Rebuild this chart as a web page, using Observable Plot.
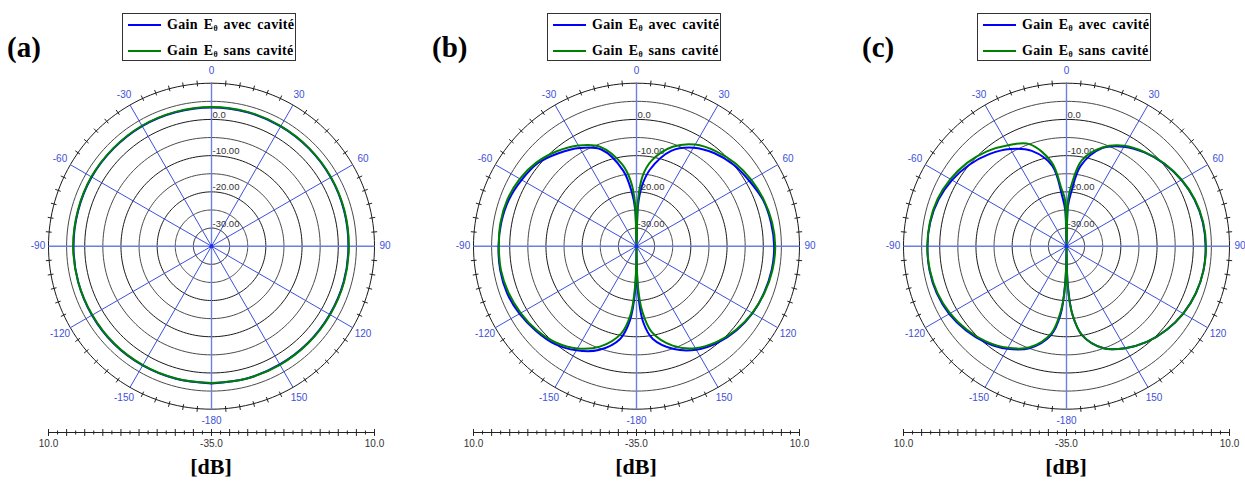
<!DOCTYPE html>
<html><head><meta charset="utf-8">
<script src="https://cdn.jsdelivr.net/npm/d3@7"></script>
<script src="https://cdn.jsdelivr.net/npm/@observablehq/plot@0.6"></script>
<style>
body{margin:0;background:#fff;overflow:hidden;}
#fig{position:relative;width:1245px;height:483px;overflow:hidden;background:#fff;}
.plabel{position:absolute;font-family:"Liberation Serif","Times New Roman",serif;font-weight:bold;font-size:29px;line-height:1;color:#000;}
.legend{position:absolute;border:1px solid #333;width:172px;height:46px;background:#fff;}
.legend .sw{position:absolute;left:5px;width:33px;height:2px;}
.legend .lt{position:absolute;left:44px;font-family:"Liberation Serif","Times New Roman",serif;font-weight:bold;font-size:14px;letter-spacing:0.35px;line-height:1;white-space:nowrap;word-spacing:2px;color:#000;}
.legend .lt sub{font-size:8px;vertical-align:-2px;line-height:0;letter-spacing:0;}
.unit{position:absolute;font-family:"Liberation Serif","Times New Roman",serif;font-weight:bold;font-size:22px;line-height:1;transform:translateX(-50%);color:#000;white-space:nowrap;}
.pl{position:absolute;width:380px;height:392px;}
.pl svg{max-width:none !important;}
</style></head>
<body><div id="fig"></div>
<script>
// ---------- data ----------
const panelNames = ["(a)", "(b)", "(c)"];
const seriesNames = ["avec cavité", "sans cavité"];
const unitLabel = "[dB]";

// panel (a): angles every 15°
const anglesA = [-180,-165,-150,-135,-120,-105,-90,-75,-60,-45,-30,-15,0,15,30,45,60,75,90,105,120,135,150,165,180];
const blueA  = [2.9,2.9,3.0,3.1,3.1,3.1,3.1,3.1,3.2,3.2,3.3,3.3,3.3,3.3,3.2,3.1,3.0,2.9,2.8,2.8,2.7,2.7,2.7,2.8,2.9];
const greenA = [2.8,2.8,2.9,3.0,3.0,3.1,3.2,3.2,3.3,3.3,3.4,3.4,3.4,3.4,3.3,3.2,3.1,3.0,2.9,2.9,2.8,2.8,2.8,2.8,2.8];

// panels (b) and (c)
const anglesBC = [-180,-178,-175,-170,-160,-150,-140,-130,-120,-110,-100,-90,-80,-70,-60,-50,-40,-30,-20,-10,-5,-2,0,2,5,10,20,30,40,50,60,70,80,90,100,110,120,130,140,150,160,170,175,178,180];
const blueB  = [-35,-22,-14.5,-9.0,-4.5,-1.8,0.2,1.3,2.3,3.0,3.2,3.1,2.9,2.5,1.6,0.6,-1.5,-3.7,-6.6,-13.8,-20.0,-25,-35,-24,-18.5,-13.5,-7.0,-3.6,-1.5,0.0,1.0,2.2,2.7,3.0,2.9,2.5,2.0,1.1,-0.2,-2.0,-4.8,-9.0,-14,-22,-35];
const greenB = [-35,-24,-16,-10.5,-5.5,-2.4,-0.3,1.0,1.9,2.6,3.0,3.0,3.1,2.9,2.2,1.0,-0.8,-2.9,-5.8,-12,-17,-23,-35,-22,-15.5,-11,-5.8,-2.6,-0.8,0.6,1.6,2.4,3.0,3.3,3.1,2.6,1.9,0.9,-0.5,-2.5,-5.8,-11,-17,-24,-35];
const blueC  = [-35,-25,-16,-10,-5,-2.3,-0.3,1.2,2.4,3.1,3.4,3.4,3.2,2.6,1.5,0.0,-1.8,-4.0,-7.0,-12.5,-21,-25,-35,-24,-20,-12.5,-6.2,-3.3,-1.3,0.3,1.6,2.6,3.2,3.4,3.4,3.0,2.2,1.0,-0.5,-2.5,-5,-10,-16,-24,-35];
const greenC = [-35,-24,-17,-10.5,-5.3,-2.6,-0.6,0.9,2.1,2.9,3.3,3.4,3.3,2.9,2.0,0.8,-0.8,-2.8,-5.0,-11.5,-19,-22,-35,-22,-17.5,-11,-6.0,-3.0,-1.2,0.4,1.7,2.7,3.3,3.5,3.4,3.0,2.2,1.0,-0.5,-2.5,-5,-10,-16,-23,-35];

// grid
const ringLevels = [-30,-25,-20,-15,-10,-5,0,5,10];
const ringLabelLevels = [0,-10,-20,-30];
const ringLabelTexts = ["0.0","-10.00","-20.00","-30.00"];
const spokeAngles = [0,30,60,90,120,150,180,210,240,270,300,330];
const angleTickVals = [0,30,60,90,120,150,-180,-150,-120,-90,-60,-30];
const scaleTickLabels = ["10.0","-35.0","10.0"];
const rMin = -35, rMax = 10;

// ---------- layout ----------
const centersX = [211, 636, 1066];
const centerY = 245.7, R = 163, svgTop = 64, W = 380, H = 392;
const k = R / (rMax - rMin);
const barPx = 432;       // y of the scale bar
const BLUE = "#0000ff", GREEN = "#008000";

const fig = document.getElementById("fig");
const rad = d => d * Math.PI / 180;
const px = (deg, r) => r * Math.sin(rad(deg));
const py = (deg, r) => r * Math.cos(rad(deg));

function polarPanel(angles, blue, green) {
  const cxL = W / 2, cyL = centerY - svgTop;
  const span = rMax - rMin;
  const rings = ringLevels.flatMap(v => d3.range(0, 361, 2).map(a => ({v, x: px(a, v - rMin), y: py(a, v - rMin)})));
  const ticks5 = d3.range(0, 360, 5).filter(a => a % 30 !== 0);
  const toPts = vals => angles.map((a, i) => ({x: px(a, vals[i] - rMin), y: py(a, vals[i] - rMin)}));
  const barY = -(barPx - centerY) / k;
  const scaleTicks = d3.range(-span, span + 0.01, 2.5);
  const labR = a => span + (Math.abs(a) === 90 ? 2.9 : 3.3);
  return Plot.plot({
    width: W, height: H, margin: 0,
    x: {domain: [-span, span], range: [cxL - R, cxL + R], axis: null},
    y: {domain: [-span, span], range: [cyL + R, cyL - R], axis: null},
    style: {fontFamily: "'Liberation Sans', Arial, sans-serif", overflow: "visible", background: "transparent", maxWidth: "none"},
    marks: [
      Plot.line(rings.filter(d => d.v % 10 === 0), {x: "x", y: "y", z: "v", stroke: "#1a1a1a", strokeWidth: 1}),
      Plot.line(rings.filter(d => d.v % 10 !== 0), {x: "x", y: "y", z: "v", stroke: "#4a4a4a", strokeWidth: 1}),
      Plot.link(ticks5, {x1: a => px(a, span - 0.7), y1: a => py(a, span - 0.7), x2: a => px(a, span + 0.9), y2: a => py(a, span + 0.9), stroke: "#222", strokeWidth: 1}),
      Plot.link(spokeAngles, {x1: 0, y1: 0, x2: a => px(a, span), y2: a => py(a, span), stroke: a => a % 90 === 0 ? "#6b7ee6" : "#3d50dc", strokeWidth: a => a % 90 === 0 ? 1.4 : 1}),
      Plot.text(ringLabelLevels, {x: 0, y: v => v - rMin, text: (v, i) => ringLabelTexts[i], textAnchor: "start", dx: 1, dy: -4.5, fill: "#333", fontSize: 9.5}),
      Plot.text(angleTickVals, {x: a => px(a, labR(a)), y: a => py(a, labR(a)), text: a => String(a), fill: "#4050d8", fontSize: 10}),
      Plot.line(toPts(blue), {x: "x", y: "y", stroke: BLUE, strokeWidth: 2, curve: "catmull-rom"}),
      Plot.line(toPts(green), {x: "x", y: "y", stroke: GREEN, strokeWidth: 2, curve: "catmull-rom"}),
      Plot.dot([0], {x: 0, y: 0, r: 2, fill: "#2030e0"}),
      // scale bar
      Plot.ruleY([barY], {x1: -span, x2: span, stroke: "#222", strokeWidth: 1}),
      Plot.link(scaleTicks, {x1: d => d, x2: d => d, y1: d => barY - (Math.abs(d) % 5 === 0 ? 0.95 : 0.55), y2: d => barY + (Math.abs(d) % 5 === 0 ? 0.95 : 0.55), stroke: "#222", strokeWidth: 1}),
      Plot.text([-span, 0, span], {x: d => d, y: barY, text: (d, i) => scaleTickLabels[i], dy: 11, fill: "#333", fontSize: 10})
    ]
  });
}

const panels = [[anglesA, blueA, greenA], [anglesBC, blueB, greenB], [anglesBC, blueC, greenC]];
panels.forEach(([ang, b, g], i) => {
  const cx = centersX[i];
  const svg = polarPanel(ang, b, g);
  svg.style.maxWidth = "none";
  const wrap = document.createElement("div");
  wrap.className = "pl";
  wrap.style.left = (cx - W / 2) + "px";
  wrap.style.top = svgTop + "px";
  wrap.appendChild(svg);
  fig.appendChild(wrap);

  const lab = document.createElement("div");
  lab.className = "plabel";
  lab.style.left = (cx - 204) + "px";
  lab.style.top = "33px";
  lab.textContent = panelNames[i];
  fig.appendChild(lab);

  const leg = document.createElement("div");
  leg.className = "legend";
  leg.style.left = (cx - 89) + "px";
  leg.style.top = "13px";
  [[BLUE, seriesNames[0]], [GREEN, seriesNames[1]]].forEach(([c, name], j) => {
    const sw = document.createElement("div");
    sw.className = "sw"; sw.style.background = c; sw.style.top = (10 + 26 * j) + "px";
    leg.appendChild(sw);
    const t = document.createElement("div");
    t.className = "lt"; t.style.top = (4 + 26 * j) + "px";
    t.innerHTML = "Gain E<sub>θ</sub> " + name;
    leg.appendChild(t);
  });
  fig.appendChild(leg);

  const u = document.createElement("div");
  u.className = "unit";
  u.style.left = cx + "px";
  u.style.top = "455.6px";
  u.textContent = unitLabel;
  fig.appendChild(u);
});
</script>
</body></html>
